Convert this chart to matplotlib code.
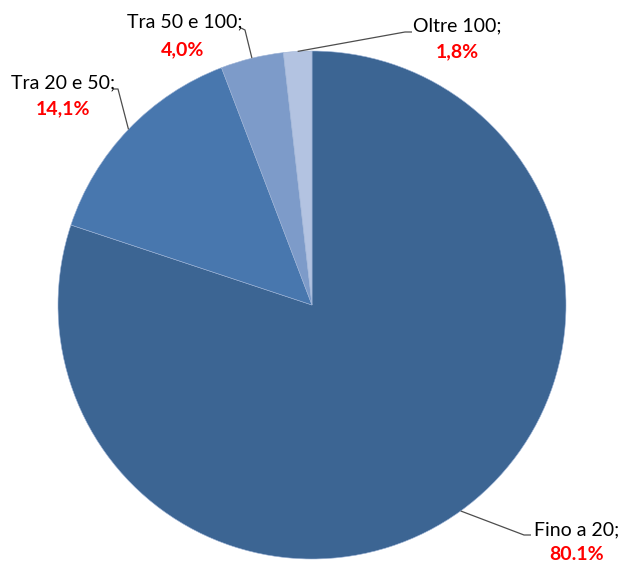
import matplotlib
matplotlib.use('Agg')
import matplotlib.pyplot as plt
import numpy as np

categories = ["Fino a 20", "Tra 20 e 50", "Tra 50 e 100", "Oltre 100"]
values = [80.1, 14.1, 4.0, 1.8]
pct_labels = ["80.1%", "14,1%", "4,0%", "1,8%"]
colors = ["#3C6593", "#4877AE", "#7D9BC9", "#B3C3E1"]

# layout (pixel coordinates, y up)
W, H = 621, 562
cx, cy, R = 312, 257, 254
name_pos = [(577, 32), (63, 479), (185, 540), (457, 536)]
pct_pos = [(577, 8), (63, 453), (183, 512), (457, 510)]
elbows = [[(524, 27), (531, 27)],
          [(118, 473), (113, 473)],
          [(245, 532), (241, 534)],
          [(405, 530), (412, 530)]]

plt.rcParams['font.family'] = ['Lato', 'DejaVu Sans']
fig = plt.figure(figsize=(W / 100, H / 100), dpi=100)
ax = fig.add_axes([0, 0, 1, 1])
wedges, _ = ax.pie(values, colors=colors, startangle=90, counterclock=False,
                   center=(cx, cy), radius=R,
                   wedgeprops=dict(edgecolor='#9DB3D6', linewidth=0.4))
ax.set_xlim(0, W)
ax.set_ylim(0, H)
ax.set_aspect('equal')
ax.axis('off')

for w, cat, pct, (nx, ny), (qx, qy), elb in zip(wedges, categories, pct_labels,
                                                 name_pos, pct_pos, elbows):
    mid = np.deg2rad((w.theta1 + w.theta2) / 2)
    px, py = cx + R * np.cos(mid), cy + R * np.sin(mid)
    xs = [px] + [e[0] for e in elb]
    ys = [py] + [e[1] for e in elb]
    ax.plot(xs, ys, color='#4D4D4D', lw=0.9, solid_capstyle='butt')
    ax.text(nx, ny, cat + ";", ha='center', va='center', fontsize=14, color='black')
    ax.text(qx, qy, pct, ha='center', va='center', fontsize=14,
            color='#FF0000', fontweight='bold')

fig.savefig('out.png', dpi=100)
